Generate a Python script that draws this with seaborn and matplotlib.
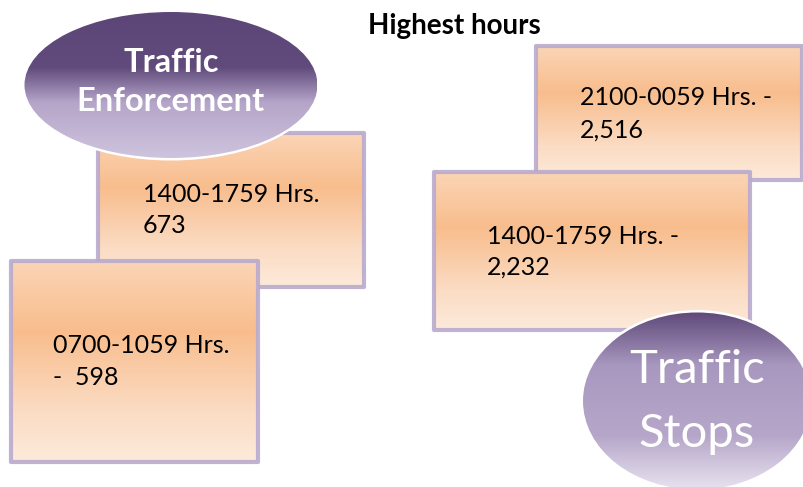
import numpy as np
import matplotlib
matplotlib.use("Agg")
import matplotlib.pyplot as plt
import seaborn as sns
from matplotlib.patches import Ellipse, Rectangle
from matplotlib.colors import LinearSegmentedColormap

# ---- data ----
title = "Highest hours"
sections = ["Traffic\nEnforcement", "Traffic\nStops"]
hour_ranges = ["1400-1759 Hrs.", "0700-1059 Hrs.", "2100-0059 Hrs.", "1400-1759 Hrs."]
counts = [673, 598, 2516, 2232]
box_section = [0, 0, 1, 1]

# ---- layout (pixel coordinates, origin top-left) ----
W, H = 804, 487
box_geom = [(98, 133, 364, 287), (11, 261, 258, 462), (536, 46, 802, 180), (434, 172, 750, 330)]
box_text_pos = [(143, 202, 233), (53, 353, 385), (580, 105, 138), (487, 244, 275)]
box_z = [1, 4, 1, 2]
line_formats = [("{r}", "{c}"), ("{r}", "-  {c}"), ("{r} -", "{c:,}"), ("{r} -", "{c:,}")]

ell_geom = [(171, 85, 293, 146), (697, 401, 228, 177)]
ell_text = [((171, 72, 111), 23.5, "bold"), ((697, 383, 447), 34, "normal")]
ell_z = [3, 3]

sns.set_theme(style="white")
plt.rcParams["font.family"] = ["Lato", "DejaVu Sans"]

fig = plt.figure(figsize=(W / 100, H / 100), dpi=100)
ax = fig.add_axes([0, 0, 1, 1])
ax.set_xlim(0, W)
ax.set_ylim(H, 0)
ax.axis("off")

box_cmap = LinearSegmentedColormap.from_list(
    "peach", [(0.0, "#fbd5b6"), (0.35, "#f8bd8d"), (0.75, "#fbdcc4"), (1.0, "#fdeadb")])
ell_cmaps = [
    LinearSegmentedColormap.from_list(
        "pe1", [(0.0, "#5c4577"), (0.38, "#614b7c"), (0.62, "#b5a5c9"), (1.0, "#cec4dd")]),
    LinearSegmentedColormap.from_list(
        "pe2", [(0.0, "#5f497a"), (0.3, "#a898bf"), (0.7, "#b6a7ca"), (1.0, "#e8e2ef")]),
]

grad = np.linspace(0, 1, 256).reshape(-1, 1)


def gradient_fill(x0, y0, x1, y1, cmap, clip, z):
    im = ax.imshow(grad, cmap=cmap, extent=(x0, x1, y1, y0), origin="upper",
                   aspect="auto", interpolation="bicubic", zorder=z)
    im.set_clip_path(clip)


# boxes
for i, (x0, y0, x1, y1) in enumerate(box_geom):
    z = box_z[i]
    rect = Rectangle((x0, y0), x1 - x0, y1 - y0, facecolor="none", edgecolor="none", zorder=z)
    ax.add_patch(rect)
    gradient_fill(x0, y0, x1, y1, box_cmap, rect, z)
    ax.add_patch(Rectangle((x0, y0), x1 - x0, y1 - y0, facecolor="none",
                           edgecolor="#b9aacd", lw=3.0, alpha=0.9, zorder=z + 0.1,
                           joinstyle="round"))
    tx, b1, b2 = box_text_pos[i]
    f1, f2 = line_formats[i]
    ax.text(tx, b1, f1.format(r=hour_ranges[i], c=counts[i]), fontsize=18,
            color="black", va="baseline", ha="left", zorder=z + 0.2)
    ax.text(tx, b2, f2.format(r=hour_ranges[i], c=counts[i]), fontsize=18,
            color="black", va="baseline", ha="left", zorder=z + 0.2)

# ellipses
for j, (cx, cy, ew, eh) in enumerate(ell_geom):
    z = ell_z[j]
    ax.add_patch(Ellipse((cx, cy), ew + 5, eh + 5, facecolor="white", edgecolor="none", zorder=z))
    el = Ellipse((cx, cy), ew, eh, facecolor="none", edgecolor="none", zorder=z)
    ax.add_patch(el)
    gradient_fill(cx - ew / 2, cy - eh / 2, cx + ew / 2, cy + eh / 2, ell_cmaps[j], el, z + 0.05)
    (tx, b1, b2), fs, fw = ell_text[j]
    l1, l2 = sections[j].split("\n")
    ax.text(tx, b1, l1, fontsize=fs, fontweight=fw, color="white", ha="center",
            va="baseline", zorder=z + 0.2)
    ax.text(tx, b2, l2, fontsize=fs, fontweight=fw, color="white", ha="center",
            va="baseline", zorder=z + 0.2)

ax.text(454, 34, title, fontsize=20, fontweight="bold", color="black",
        ha="center", va="baseline", zorder=10)

ax.set_xlim(0, W)
ax.set_ylim(H, 0)
fig.savefig("out.png", dpi=100)
